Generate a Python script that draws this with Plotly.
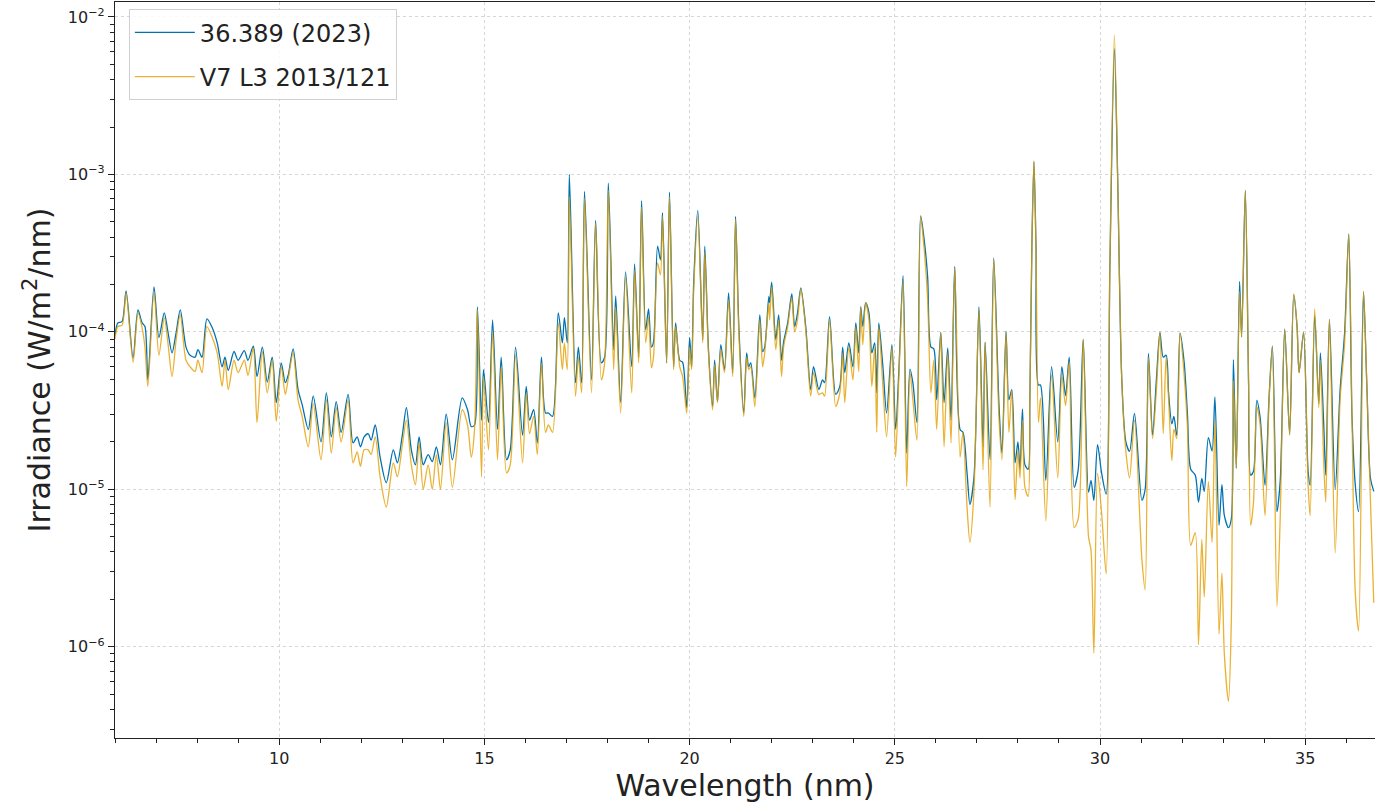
import plotly.graph_objects as go

wavelength = [
    6.00, 6.07, 6.17, 6.27, 6.44, 6.56, 6.66, 6.73, 6.80, 6.95, 7.07, 7.20, 7.29, 7.39, 7.49, 7.59, 7.73, 7.83, 7.95, 8.02,
    8.12, 8.24, 8.37, 8.49, 8.61, 8.68, 8.76, 8.90, 9.00, 9.15, 9.24, 9.37, 9.46, 9.59, 9.71, 9.83, 9.93, 10.05, 10.15, 10.22,
    10.34, 10.46, 10.56, 10.71, 10.83, 11.02, 11.15, 11.27, 11.39, 11.51, 11.68, 11.80, 11.90, 11.98, 12.07, 12.17, 12.24, 12.34, 12.46, 12.61,
    12.78, 12.88, 13.00, 13.10, 13.22, 13.32, 13.41, 13.51, 13.63, 13.73, 13.83, 13.93, 14.07, 14.22, 14.46, 14.59, 14.68, 14.76, 14.83, 14.93,
    14.98, 15.10, 15.20, 15.32, 15.41, 15.54, 15.63, 15.76, 15.93, 16.02, 16.10, 16.20, 16.29, 16.39, 16.49, 16.56, 16.66, 16.80, 16.90, 16.95,
    17.02, 17.07, 17.22, 17.29, 17.37, 17.44, 17.61, 17.71, 17.85, 17.93, 18.02, 18.15, 18.20, 18.32, 18.44, 18.59, 18.66, 18.76, 18.83, 18.93,
    19.00, 19.07, 19.12, 19.22, 19.29, 19.34, 19.44, 19.51, 19.61, 19.66, 19.76, 19.83, 19.93, 20.00, 20.05, 20.10, 20.20, 20.32, 20.37, 20.46,
    20.56, 20.61, 20.68, 20.76, 20.85, 20.95, 21.05, 21.12, 21.20, 21.32, 21.39, 21.44, 21.49, 21.59, 21.71, 21.78, 21.83, 21.93, 21.95, 22.00,
    22.10, 22.17, 22.24, 22.29, 22.39, 22.49, 22.56, 22.63, 22.71, 22.83, 22.95, 23.02, 23.15, 23.24, 23.29, 23.41, 23.56, 23.66, 23.73, 23.78,
    23.88, 23.98, 24.05, 24.12, 24.17, 24.22, 24.29, 24.37, 24.44, 24.51, 24.56, 24.61, 24.71, 24.80, 24.93, 25.02, 25.10, 25.20, 25.29, 25.37,
    25.44, 25.54, 25.63, 25.71, 25.80, 25.88, 25.95, 26.02, 26.12, 26.20, 26.29, 26.37, 26.46, 26.59, 26.66, 26.76, 26.83, 26.93, 27.05, 27.15,
    27.20, 27.32, 27.41, 27.54, 27.61, 27.71, 27.78, 27.85, 27.93, 28.00, 28.05, 28.11, 28.17, 28.25, 28.29, 28.34, 28.39, 28.44, 28.50, 28.55,
    28.68, 28.82, 28.97, 29.07, 29.16, 29.25, 29.37, 29.47, 29.59, 29.72, 29.78, 29.85, 29.94, 30.04, 30.15, 30.24, 30.35, 30.43, 30.53, 30.63,
    30.72, 30.84, 31.02, 31.10, 31.18, 31.28, 31.37, 31.46, 31.54, 31.61, 31.67, 31.75, 31.80, 31.87, 31.95, 32.05, 32.13, 32.21, 32.32, 32.40,
    32.48, 32.54, 32.64, 32.73, 32.80, 32.90, 32.97, 33.03, 33.13, 33.20, 33.25, 33.32, 33.40, 33.45, 33.54, 33.62, 33.67, 33.74, 33.82, 33.90,
    34.02, 34.12, 34.20, 34.31, 34.39, 34.50, 34.62, 34.72, 34.80, 34.85, 34.96, 35.07, 35.12, 35.23, 35.33, 35.37, 35.45, 35.50, 35.59, 35.73,
    35.85, 35.96, 36.06, 36.14, 36.22, 36.30, 36.42, 36.50, 36.59, 36.67,
]

irr_2023 = [
    9.5e-5, 1.14e-4, 1.16e-4, 1.82e-4, 6.8e-5, 1.38e-4, 1.14e-4, 1.08e-4, 4.95e-5, 1.93e-4, 9.2e-5, 1.32e-4, 1.0e-4, 7.35e-5, 9.9e-5, 1.38e-4, 8.0e-5, 7.1e-5, 6.9e-5, 7.7e-5,
    6.9e-5, 1.21e-4, 1.06e-4, 8.5e-5, 6.0e-5, 6.9e-5, 5.7e-5, 7.5e-5, 6.6e-5, 7.6e-5, 6.6e-5, 8.1e-5, 5.2e-5, 8.0e-5, 4.8e-5, 6.9e-5, 3.55e-5, 6.35e-5, 4.75e-5, 5.3e-5,
    7.8e-5, 4.3e-5, 3.45e-5, 2.4e-5, 3.9e-5, 2.0e-5, 4.1e-5, 2.15e-5, 3.6e-5, 2.3e-5, 4.0e-5, 1.97e-5, 2.15e-5, 1.86e-5, 2.15e-5, 2.25e-5, 2.05e-5, 2.56e-5, 1.6e-5, 1.1e-5,
    1.78e-5, 1.47e-5, 2.2e-5, 3.3e-5, 1.78e-5, 1.43e-5, 2.15e-5, 1.43e-5, 1.66e-5, 1.5e-5, 1.86e-5, 1.43e-5, 3.0e-5, 1.54e-5, 3.8e-5, 3.2e-5, 2.5e-5, 2.56e-5, 1.44e-4, 2.75e-5,
    5.75e-5, 2.65e-5, 1.19e-4, 2.4e-5, 6.9e-5, 1.54e-5, 1.78e-5, 8.0e-5, 2.2e-5, 4.5e-5, 2.75e-5, 3.2e-5, 1.97e-5, 6.9e-5, 3.05e-5, 3.05e-5, 2.9e-5, 1.32e-4, 8.5e-5, 1.23e-4,
    8.5e-5, 1.0e-3, 4.75e-5, 8.0e-5, 4.75e-5, 7.8e-4, 4.95e-5, 5.1e-4, 6.35e-5, 6.9e-5, 8.8e-4, 7.7e-5, 1.69e-4, 3.55e-5, 2.4e-4, 6.0e-5, 2.7e-4, 6.9e-5, 6.8e-4, 1.03e-4,
    1.4e-4, 8.0e-5, 8.6e-5, 3.5e-4, 2.87e-4, 5.7e-4, 6.35e-5, 7.7e-4, 6.0e-5, 1.14e-4, 6.6e-5, 6.4e-5, 3.3e-5, 9.2e-5, 6.0e-5, 2.05e-4, 5.9e-4, 8.9e-5, 3.5e-4, 7.7e-5,
    3.35e-5, 6.6e-5, 3.6e-5, 8.3e-5, 5.75e-5, 1.77e-4, 5.5e-5, 5.4e-4, 1.08e-4, 3.05e-5, 7.35e-5, 6.0e-5, 6.35e-5, 3.8e-5, 1.28e-4, 7.5e-5, 8.0e-5, 1.67e-4, 1.53e-4, 2.07e-4,
    8.9e-5, 1.28e-4, 6.6e-5, 8.6e-5, 1.14e-4, 1.74e-4, 1.08e-4, 1.32e-4, 1.9e-4, 1.08e-4, 4.3e-5, 6.0e-5, 4.3e-5, 4.95e-5, 4.75e-5, 1.25e-4, 4.0e-5, 4.5e-5, 8.0e-5, 5.5e-5,
    8.5e-5, 6.0e-5, 1.14e-4, 7.35e-5, 1.44e-4, 1.08e-4, 1.53e-4, 1.32e-4, 7.35e-5, 8.5e-5, 4.1e-5, 1.14e-4, 6.0e-5, 3.05e-5, 8.3e-5, 2.4e-5, 5.75e-5, 2.27e-4, 1.7e-5, 5.8e-5,
    4.75e-5, 2.65e-5, 5.45e-4, 3.95e-4, 2.24e-4, 8.0e-5, 7.8e-5, 3.7e-5, 9.9e-5, 3.55e-5, 7.9e-5, 2.75e-5, 2.6e-4, 2.4e-5, 2.3e-5, 1.27e-5, 8.0e-6, 1.2e-5, 1.44e-4, 1.86e-5,
    8.6e-5, 1.54e-5, 2.95e-4, 3.35e-5, 1.7e-5, 1.01e-4, 3.7e-5, 4.3e-5, 1.47e-5, 2.0e-5, 1.34e-5, 3.24e-5, 1.43e-5, 1.34e-5, 3.6e-5, 3.5e-4, 1.2e-3, 3.5e-4, 4.6e-5, 4.6e-5,
    1.14e-5, 6.0e-5, 2.0e-5, 6.0e-5, 3.94e-5, 6.9e-5, 1.03e-5, 1.34e-5, 8.95e-5, 9.6e-6, 1.14e-5, 8.5e-6, 1.92e-5, 1.26e-5, 9.3e-6, 2.55e-4, 6.3e-3, 9.5e-4, 5.0e-5, 2.0e-5,
    1.74e-5, 3.03e-5, 8.5e-6, 1.0e-5, 7.3e-5, 2.2e-5, 4.8e-5, 9.9e-5, 6.9e-5, 7.1e-5, 4.1e-5, 2.6e-5, 2.9e-5, 2.2e-5, 9.8e-5, 6.4e-5, 3.0e-5, 1.34e-5, 1.23e-5, 8.3e-6,
    1.17e-5, 9.7e-6, 2.13e-5, 1.75e-5, 3.86e-5, 5.9e-6, 1.07e-5, 6.8e-6, 5.7e-6, 6.5e-6, 6.65e-5, 1.36e-5, 2.09e-4, 9.3e-5, 7.9e-4, 4.7e-5, 1.23e-5, 1.3e-5, 3.67e-5, 2.87e-5,
    1.06e-5, 3.86e-5, 8.1e-5, 7.2e-6, 1.12e-5, 1.04e-4, 2.24e-5, 1.71e-4, 1.09e-4, 5.5e-5, 9.9e-5, 1.3e-5, 1.06e-5, 1.27e-4, 3.5e-5, 7.35e-5, 2.6e-5, 1.23e-5, 1.2e-4, 1.0e-5,
    4.26e-5, 9.9e-5, 4.17e-4, 2.87e-5, 1.06e-5, 7.2e-6, 1.8e-4, 4.7e-5, 1.17e-5, 9.7e-6,
]

irr_v7 = [
    9.0e-5, 1.08e-4, 1.10e-4, 1.77e-4, 6.4e-5, 1.32e-4, 1.06e-4, 8.0e-5, 4.5e-5, 1.8e-4, 7.1e-5, 1.23e-4, 8.5e-5, 5.2e-5, 8.9e-5, 1.28e-4, 6.6e-5, 6.0e-5, 5.6e-5, 6.6e-5,
    5.5e-5, 1.08e-4, 9.2e-5, 7.35e-5, 4.5e-5, 6.6e-5, 4.3e-5, 6.6e-5, 5.5e-5, 6.6e-5, 5.3e-5, 7.9e-5, 2.65e-5, 7.5e-5, 4.1e-5, 6.6e-5, 2.7e-5, 6.0e-5, 4.0e-5, 5.0e-5,
    7.35e-5, 3.7e-5, 2.9e-5, 1.86e-5, 3.5e-5, 1.54e-5, 3.7e-5, 1.7e-5, 3.3e-5, 2.0e-5, 3.7e-5, 1.47e-5, 1.73e-5, 1.4e-5, 1.78e-5, 1.78e-5, 1.66e-5, 2.15e-5, 1.2e-5, 7.7e-6,
    1.47e-5, 1.2e-5, 1.9e-5, 2.75e-5, 1.43e-5, 1.07e-5, 1.97e-5, 1.0e-5, 1.43e-5, 1.0e-5, 1.66e-5, 1.0e-5, 2.65e-5, 1.03e-5, 3.2e-5, 2.56e-5, 1.6e-5, 2.4e-5, 1.38e-4, 1.2e-5,
    5.2e-5, 1.78e-5, 1.0e-4, 1.54e-5, 6.0e-5, 1.27e-5, 1.43e-5, 7.1e-5, 1.47e-5, 4.1e-5, 2.25e-5, 2.9e-5, 1.66e-5, 6.35e-5, 2.3e-5, 2.56e-5, 2.3e-5, 1.14e-4, 5.75e-5, 8.5e-5,
    5.75e-5, 7.2e-4, 3.9e-5, 6.9e-5, 4.1e-5, 7.1e-4, 4.1e-5, 4.9e-4, 4.95e-5, 6.35e-5, 7.9e-4, 5.75e-5, 1.44e-4, 3.05e-5, 2.24e-4, 4.1e-5, 2.47e-4, 6.35e-5, 6.2e-4, 8.5e-5,
    1.25e-4, 5.9e-5, 6.9e-5, 2.74e-4, 2.3e-4, 5.4e-4, 6.35e-5, 7.2e-4, 5.75e-5, 1.08e-4, 6.0e-5, 5.2e-5, 3.05e-5, 8.0e-5, 5.75e-5, 1.85e-4, 5.4e-4, 8.5e-5, 3.2e-4, 7.35e-5,
    3.2e-5, 6.2e-5, 3.55e-5, 7.7e-5, 5.5e-5, 1.6e-4, 5.2e-5, 5.15e-4, 9.9e-5, 2.9e-5, 6.9e-5, 5.75e-5, 6.0e-5, 3.35e-5, 1.19e-4, 6.0e-5, 7.35e-5, 1.53e-4, 1.19e-4, 1.93e-4,
    7.7e-5, 1.19e-4, 5.2e-5, 8.0e-5, 1.08e-4, 1.64e-4, 1.0e-4, 1.19e-4, 1.85e-4, 1.03e-4, 3.9e-5, 5.5e-5, 4.0e-5, 4.1e-5, 3.9e-5, 1.19e-4, 3.35e-5, 4.1e-5, 7.35e-5, 3.55e-5,
    8.0e-5, 4.95e-5, 1.08e-4, 5.6e-5, 1.44e-4, 8.3e-5, 1.53e-4, 1.19e-4, 4.5e-5, 8.0e-5, 2.3e-5, 1.08e-4, 4.5e-5, 2.15e-5, 8.0e-5, 1.6e-5, 5.2e-5, 2.14e-4, 1.04e-5, 5.5e-5,
    3.7e-5, 2.05e-5, 5.4e-4, 3.47e-4, 1.6e-4, 4.1e-5, 6.6e-5, 2.4e-5, 9.9e-5, 1.86e-5, 7.35e-5, 1.97e-5, 2.55e-4, 1.6e-5, 2.3e-5, 7.7e-6, 4.6e-6, 9.9e-6, 1.38e-4, 1.33e-5,
    8.5e-5, 7.7e-6, 2.87e-4, 2.75e-5, 1.54e-5, 9.9e-5, 2.3e-5, 4.3e-5, 8.6e-6, 1.78e-5, 1.18e-5, 2.75e-5, 1.03e-5, 9.0e-6, 3.6e-5, 3.5e-4, 1.22e-3, 3.3e-4, 2.66e-5, 3.8e-5,
    6.3e-6, 5.3e-5, 1.18e-5, 5.3e-5, 3.4e-5, 6.45e-5, 5.7e-6, 6.5e-6, 8.95e-5, 5.0e-6, 4.1e-6, 9.1e-7, 1.26e-5, 7.0e-6, 2.9e-6, 2.55e-4, 7.7e-3, 9.5e-4, 5.0e-5, 1.74e-5,
    1.18e-5, 2.75e-5, 3.6e-6, 2.3e-6, 6.9e-5, 2.1e-5, 4.1e-5, 1.0e-4, 2.26e-5, 6.9e-5, 3.8e-5, 1.52e-5, 2.4e-5, 2.1e-5, 9.8e-5, 5.3e-5, 2.5e-5, 4.4e-6, 5.3e-6, 1.03e-6,
    4.8e-6, 2.07e-6, 1.12e-5, 4.6e-6, 2.73e-5, 1.2e-6, 2.93e-6, 8.9e-7, 4.5e-7, 1.47e-6, 4.9e-5, 1.36e-5, 1.8e-4, 9.3e-5, 7.9e-4, 4.7e-5, 5.9e-6, 8.3e-6, 3.33e-5, 2.6e-5,
    6.8e-6, 3.7e-5, 8.1e-5, 1.8e-6, 6.5e-6, 1.04e-4, 2.2e-5, 1.75e-4, 1.09e-4, 5.5e-5, 9.9e-5, 1.06e-5, 6.8e-6, 1.4e-4, 3.3e-5, 6.6e-5, 1.5e-5, 8.3e-6, 1.2e-4, 3.95e-6,
    3.7e-5, 8.5e-5, 4.17e-4, 2.87e-5, 2.18e-6, 1.26e-6, 1.8e-4, 4.7e-5, 8.3e-6, 1.9e-6,
]

series_names = ["36.389 (2023)", "V7 L3 2013/121"]
x_tick_vals = [10, 15, 20, 25, 30, 35]
y_tick_vals = [1e-6, 1e-5, 1e-4, 1e-3, 1e-2]
y_tick_text = ["10<sup>−6</sup>", "10<sup>−5</sup>", "10<sup>−4</sup>", "10<sup>−3</sup>", "10<sup>−2</sup>"]

fig = go.Figure()
fig.add_trace(go.Scatter(x=wavelength, y=irr_2023, mode="lines", name=series_names[0], legendgroup="a",
                         line=dict(color="#0072B2", width=1.3, shape="spline", smoothing=0.8)))
fig.add_trace(go.Scatter(x=wavelength, y=irr_v7, mode="lines", name=series_names[1], legendgroup="b",
                         line=dict(color="#E69F00", width=1.3, shape="spline", smoothing=0.8),
                         opacity=0.8))

font_family = "DejaVu Sans, Arial, sans-serif"
fig.update_layout(
    width=1375, height=811,
    margin=dict(l=115, r=0, t=2, b=73),
    paper_bgcolor="white", plot_bgcolor="white",
    font=dict(family=font_family, color="#222"),
    showlegend=True,
    legend=dict(x=0.011, y=0.99, xanchor="left", yanchor="top",
                bgcolor="rgba(255,255,255,0.85)", bordercolor="#d0d0d0", borderwidth=1,
                font=dict(size=24, family=font_family, color="#222"),
                itemwidth=60, tracegroupgap=10),
)
fig.update_xaxes(
    range=[6.0, 36.7], tickvals=x_tick_vals, ticks="outside", ticklen=6, tickcolor="#222",
    tickfont=dict(size=16), showline=True, linecolor="#222", linewidth=1.2, mirror=True,
    showgrid=True, gridcolor="#d6d6d6", griddash="dot", gridwidth=1, zeroline=False,
    minor=dict(ticks="outside", ticklen=3.5, dtick=1, tickcolor="#222", showgrid=False),
    title=dict(text="Wavelength (nm)", font=dict(size=30, family=font_family, color="#222"), standoff=6),
)
fig.update_yaxes(
    type="log", range=[-6.58, -1.905], tickvals=y_tick_vals, ticktext=y_tick_text,
    ticks="outside", ticklen=6, tickcolor="#222", tickfont=dict(size=16),
    showline=True, linecolor="#222", linewidth=1.2, mirror=False,
    showgrid=True, gridcolor="#d6d6d6", griddash="dot", gridwidth=1, zeroline=False,
    minor=dict(ticks="outside", ticklen=3.5, dtick="D1", tickcolor="#222", showgrid=False),
    title=dict(text="Irradiance (W/m<sup>2</sup>/nm)", font=dict(size=30, family=font_family, color="#222"), standoff=8),
)

fig.write_html("out.html", config={"displayModeBar": False},
               post_script="document.body.style.margin='0px';document.body.style.overflow='hidden';")
